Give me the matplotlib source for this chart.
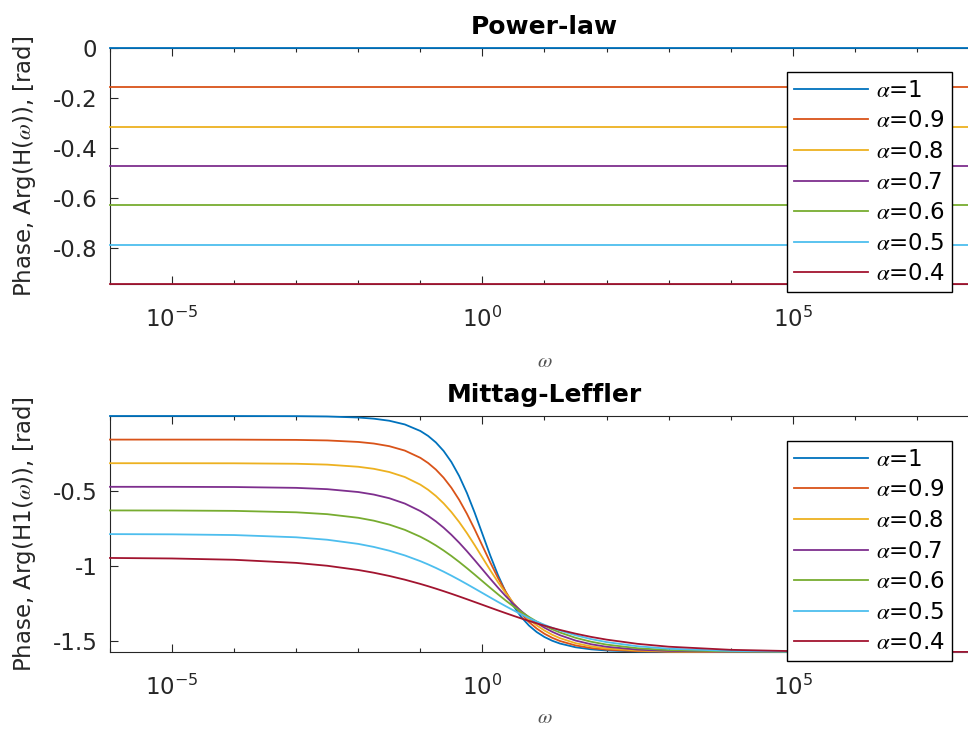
import matplotlib
matplotlib.use("Agg")
import matplotlib.pyplot as plt
from matplotlib.ticker import FixedLocator, FixedFormatter, NullFormatter

plt.rcParams['font.family'] = ['DejaVu Sans']
plt.rcParams['mathtext.fontset'] = 'stix'
plt.rcParams['axes.unicode_minus'] = False

# ---------------- data ----------------
alpha_labels = [r'$\alpha$=1', r'$\alpha$=0.9', r'$\alpha$=0.8', r'$\alpha$=0.7',
                r'$\alpha$=0.6', r'$\alpha$=0.5', r'$\alpha$=0.4']
colors = ['#0072BD', '#D95319', '#EDB120', '#7E2F8E', '#77AC30', '#4DBEEE', '#A2142F']

# Power-law: constant phase over the whole frequency range
omega_power = [1e-6, 1e8]
phase_power = [0.0, -0.1571, -0.3142, -0.4712, -0.6283, -0.7854, -0.9425]

# Mittag-Leffler: phase read at these log10(omega) positions
omega_exp = [-6, -5, -4, -3, -2.5, -2, -1.75, -1.5, -1.25, -1, -0.875, -0.75, -0.625,
             -0.5, -0.375, -0.25, -0.125, 0, 0.125, 0.25, 0.375, 0.5, 0.625, 0.75,
             0.875, 1, 1.125, 1.25, 1.5, 1.75, 2, 2.5, 3, 4, 5, 6, 7, 8]
ml_a10 = [-0.0000, -0.0000, -0.0001, -0.0010, -0.0032, -0.0100, -0.0178, -0.0316, -0.0562,
          -0.0997, -0.1326, -0.1760, -0.2328, -0.3063, -0.3991, -0.5124, -0.6434, -0.7854,
          -0.9274, -1.0584, -1.1717, -1.2645, -1.3380, -1.3948, -1.4382, -1.4711, -1.4959,
          -1.5146, -1.5392, -1.5530, -1.5608, -1.5676, -1.5698, -1.5707, -1.5708, -1.5708,
          -1.5708, -1.5708]
ml_a09 = [-0.1571, -0.1571, -0.1573, -0.1591, -0.1626, -0.1727, -0.1832, -0.2009, -0.2302,
          -0.2784, -0.3129, -0.3565, -0.4109, -0.4777, -0.5578, -0.6508, -0.7544, -0.8639,
          -0.9735, -1.0771, -1.1701, -1.2502, -1.3170, -1.3714, -1.4149, -1.4495, -1.4765,
          -1.4977, -1.5270, -1.5446, -1.5552, -1.5653, -1.5688, -1.5706, -1.5708, -1.5708,
          -1.5708, -1.5708]
ml_a08 = [-0.3142, -0.3143, -0.3148, -0.3179, -0.3236, -0.3379, -0.3515, -0.3730, -0.4062,
          -0.4569, -0.4910, -0.5323, -0.5816, -0.6393, -0.7056, -0.7795, -0.8594, -0.9425,
          -1.0256, -1.1054, -1.1794, -1.2456, -1.3034, -1.3526, -1.3939, -1.4281, -1.4561,
          -1.4788, -1.5120, -1.5334, -1.5471, -1.5613, -1.5670, -1.5702, -1.5707, -1.5708,
          -1.5708, -1.5708]
ml_a07 = [-0.4713, -0.4715, -0.4727, -0.4783, -0.4870, -0.5061, -0.5229, -0.5474, -0.5828,
          -0.6328, -0.6646, -0.7013, -0.7434, -0.7908, -0.8432, -0.8998, -0.9596, -1.0210,
          -1.0825, -1.1422, -1.1989, -1.2512, -1.2986, -1.3407, -1.3775, -1.4092, -1.4363,
          -1.4592, -1.4946, -1.5192, -1.5360, -1.5551, -1.5637, -1.5694, -1.5705, -1.5707,
          -1.5708, -1.5708]
ml_a06 = [-0.6285, -0.6291, -0.6315, -0.6410, -0.6534, -0.6775, -0.6967, -0.7229, -0.7578,
          -0.8036, -0.8310, -0.8615, -0.8952, -0.9318, -0.9712, -1.0127, -1.0557, -1.0996,
          -1.1434, -1.1865, -1.2280, -1.2673, -1.3039, -1.3376, -1.3681, -1.3955, -1.4199,
          -1.4413, -1.4762, -1.5024, -1.5216, -1.5457, -1.5581, -1.5676, -1.5700, -1.5706,
          -1.5707, -1.5708]
ml_a05 = [-0.7861, -0.7876, -0.7924, -0.8073, -0.8236, -0.8513, -0.8714, -0.8966, -0.9280,
          -0.9661, -0.9878, -1.0112, -1.0361, -1.0626, -1.0903, -1.1190, -1.1484, -1.1781,
          -1.2078, -1.2372, -1.2659, -1.2936, -1.3200, -1.3450, -1.3684, -1.3900, -1.4100,
          -1.4282, -1.4596, -1.4848, -1.5049, -1.5326, -1.5489, -1.5638, -1.5686, -1.5701,
          -1.5706, -1.5707]
ml_a04 = [-0.9448, -0.9483, -0.9569, -0.9777, -0.9968, -1.0249, -1.0431, -1.0646, -1.0894,
          -1.1177, -1.1330, -1.1491, -1.1659, -1.1832, -1.2011, -1.2194, -1.2380, -1.2566,
          -1.2753, -1.2939, -1.3121, -1.3300, -1.3474, -1.3642, -1.3803, -1.3956, -1.4102,
          -1.4239, -1.4487, -1.4702, -1.4884, -1.5165, -1.5355, -1.5563, -1.5650, -1.5685,
          -1.5699, -1.5704]
ml_series = [ml_a10, ml_a09, ml_a08, ml_a07, ml_a06, ml_a05, ml_a04]

xticks = [1e-5, 1e0, 1e5]
xticklabels = [r'$\mathdefault{10^{-5}}$', r'$\mathdefault{10^{0}}$', r'$\mathdefault{10^{5}}$']
xminor = [1e-6, 1e-4, 1e-3, 1e-2, 1e-1, 1e1, 1e2, 1e3, 1e4, 1e6, 1e7, 1e8]
yticks_top = [-0.8, -0.6, -0.4, -0.2, 0]
yticklabels_top = ['-0.8', '-0.6', '-0.4', '-0.2', '0']
yticks_bot = [-1.5, -1, -0.5]
yticklabels_bot = ['-1.5', '-1', '-0.5']

# ---------------- figure ----------------
W, H = 968, 733
fig = plt.figure(figsize=(W / 100, H / 100), dpi=100)

def axrect(l, t, r, b):
    return [l / W, 1 - b / H, (r - l) / W, (b - t) / H]

ax1 = fig.add_axes(axrect(110, 48, 979, 284))
ax2 = fig.add_axes(axrect(110, 416, 979, 652))

omega_ml = [10.0 ** e for e in omega_exp]

for val, c, lab in zip(phase_power, colors, alpha_labels):
    ax1.plot(omega_power, [val, val], color=c, lw=1.3, label=lab, clip_on=False, zorder=3)
for ser, c, lab in zip(ml_series, colors, alpha_labels):
    ax2.plot(omega_ml, ser, color=c, lw=1.3, label=lab, clip_on=False, zorder=3)

gray = '#262626'
for ax, title, ylab, yt, ytl, data, legtop, xl_y in [
        (ax1, 'Power-law', r'Phase, Arg(H($\omega$)), [rad]', yticks_top, yticklabels_top,
         phase_power, 72, -0.285),
        (ax2, 'Mittag-Leffler', r'Phase, Arg(H1($\omega$)), [rad]', yticks_bot, yticklabels_bot,
         [v for s in ml_series for v in s], 441, -0.235)]:
    ax.set_xscale('log')
    ax.set_xlim(1e-6, 1e8)
    ax.set_ylim(min(data), max(data))
    ax.xaxis.set_major_locator(FixedLocator(xticks))
    ax.xaxis.set_major_formatter(FixedFormatter(xticklabels))
    ax.xaxis.set_minor_locator(FixedLocator(xminor))
    ax.xaxis.set_minor_formatter(NullFormatter())
    ax.yaxis.set_major_locator(FixedLocator(yt))
    ax.yaxis.set_major_formatter(FixedFormatter(ytl))
    ax.tick_params(which='both', direction='in', top=True, right=True, colors=gray,
                   labelsize=16.5, width=0.8)
    ax.tick_params(which='major', length=6)
    ax.tick_params(axis='x', which='major', pad=16)
    ax.tick_params(axis='y', which='major', pad=9)
    ax.tick_params(which='minor', length=3)
    for sp in ax.spines.values():
        sp.set_color(gray)
        sp.set_linewidth(0.8)
    ax.set_title(title, fontsize=18, fontweight='bold', pad=10)
    ax.set_ylabel(ylab, fontsize=16.5, color=gray)
    ax.yaxis.set_label_coords(-0.083, 0.5)
    ax.set_xlabel(r'$\omega$', fontsize=15, color='#555555')
    ax.xaxis.set_label_coords(0.5, xl_y)
    leg = ax.legend(loc='upper left', bbox_to_anchor=(787 / W, 1 - legtop / H),
                    bbox_transform=fig.transFigure, fontsize=16.5, frameon=True, fancybox=False,
                    edgecolor='black', framealpha=1, borderaxespad=0, handlelength=3.25,
                    handletextpad=0.35, labelspacing=0.33, borderpad=0.3)
    leg.get_frame().set_linewidth(1.0)
    leg.set_zorder(10)

fig.savefig('out.png', dpi=100)
